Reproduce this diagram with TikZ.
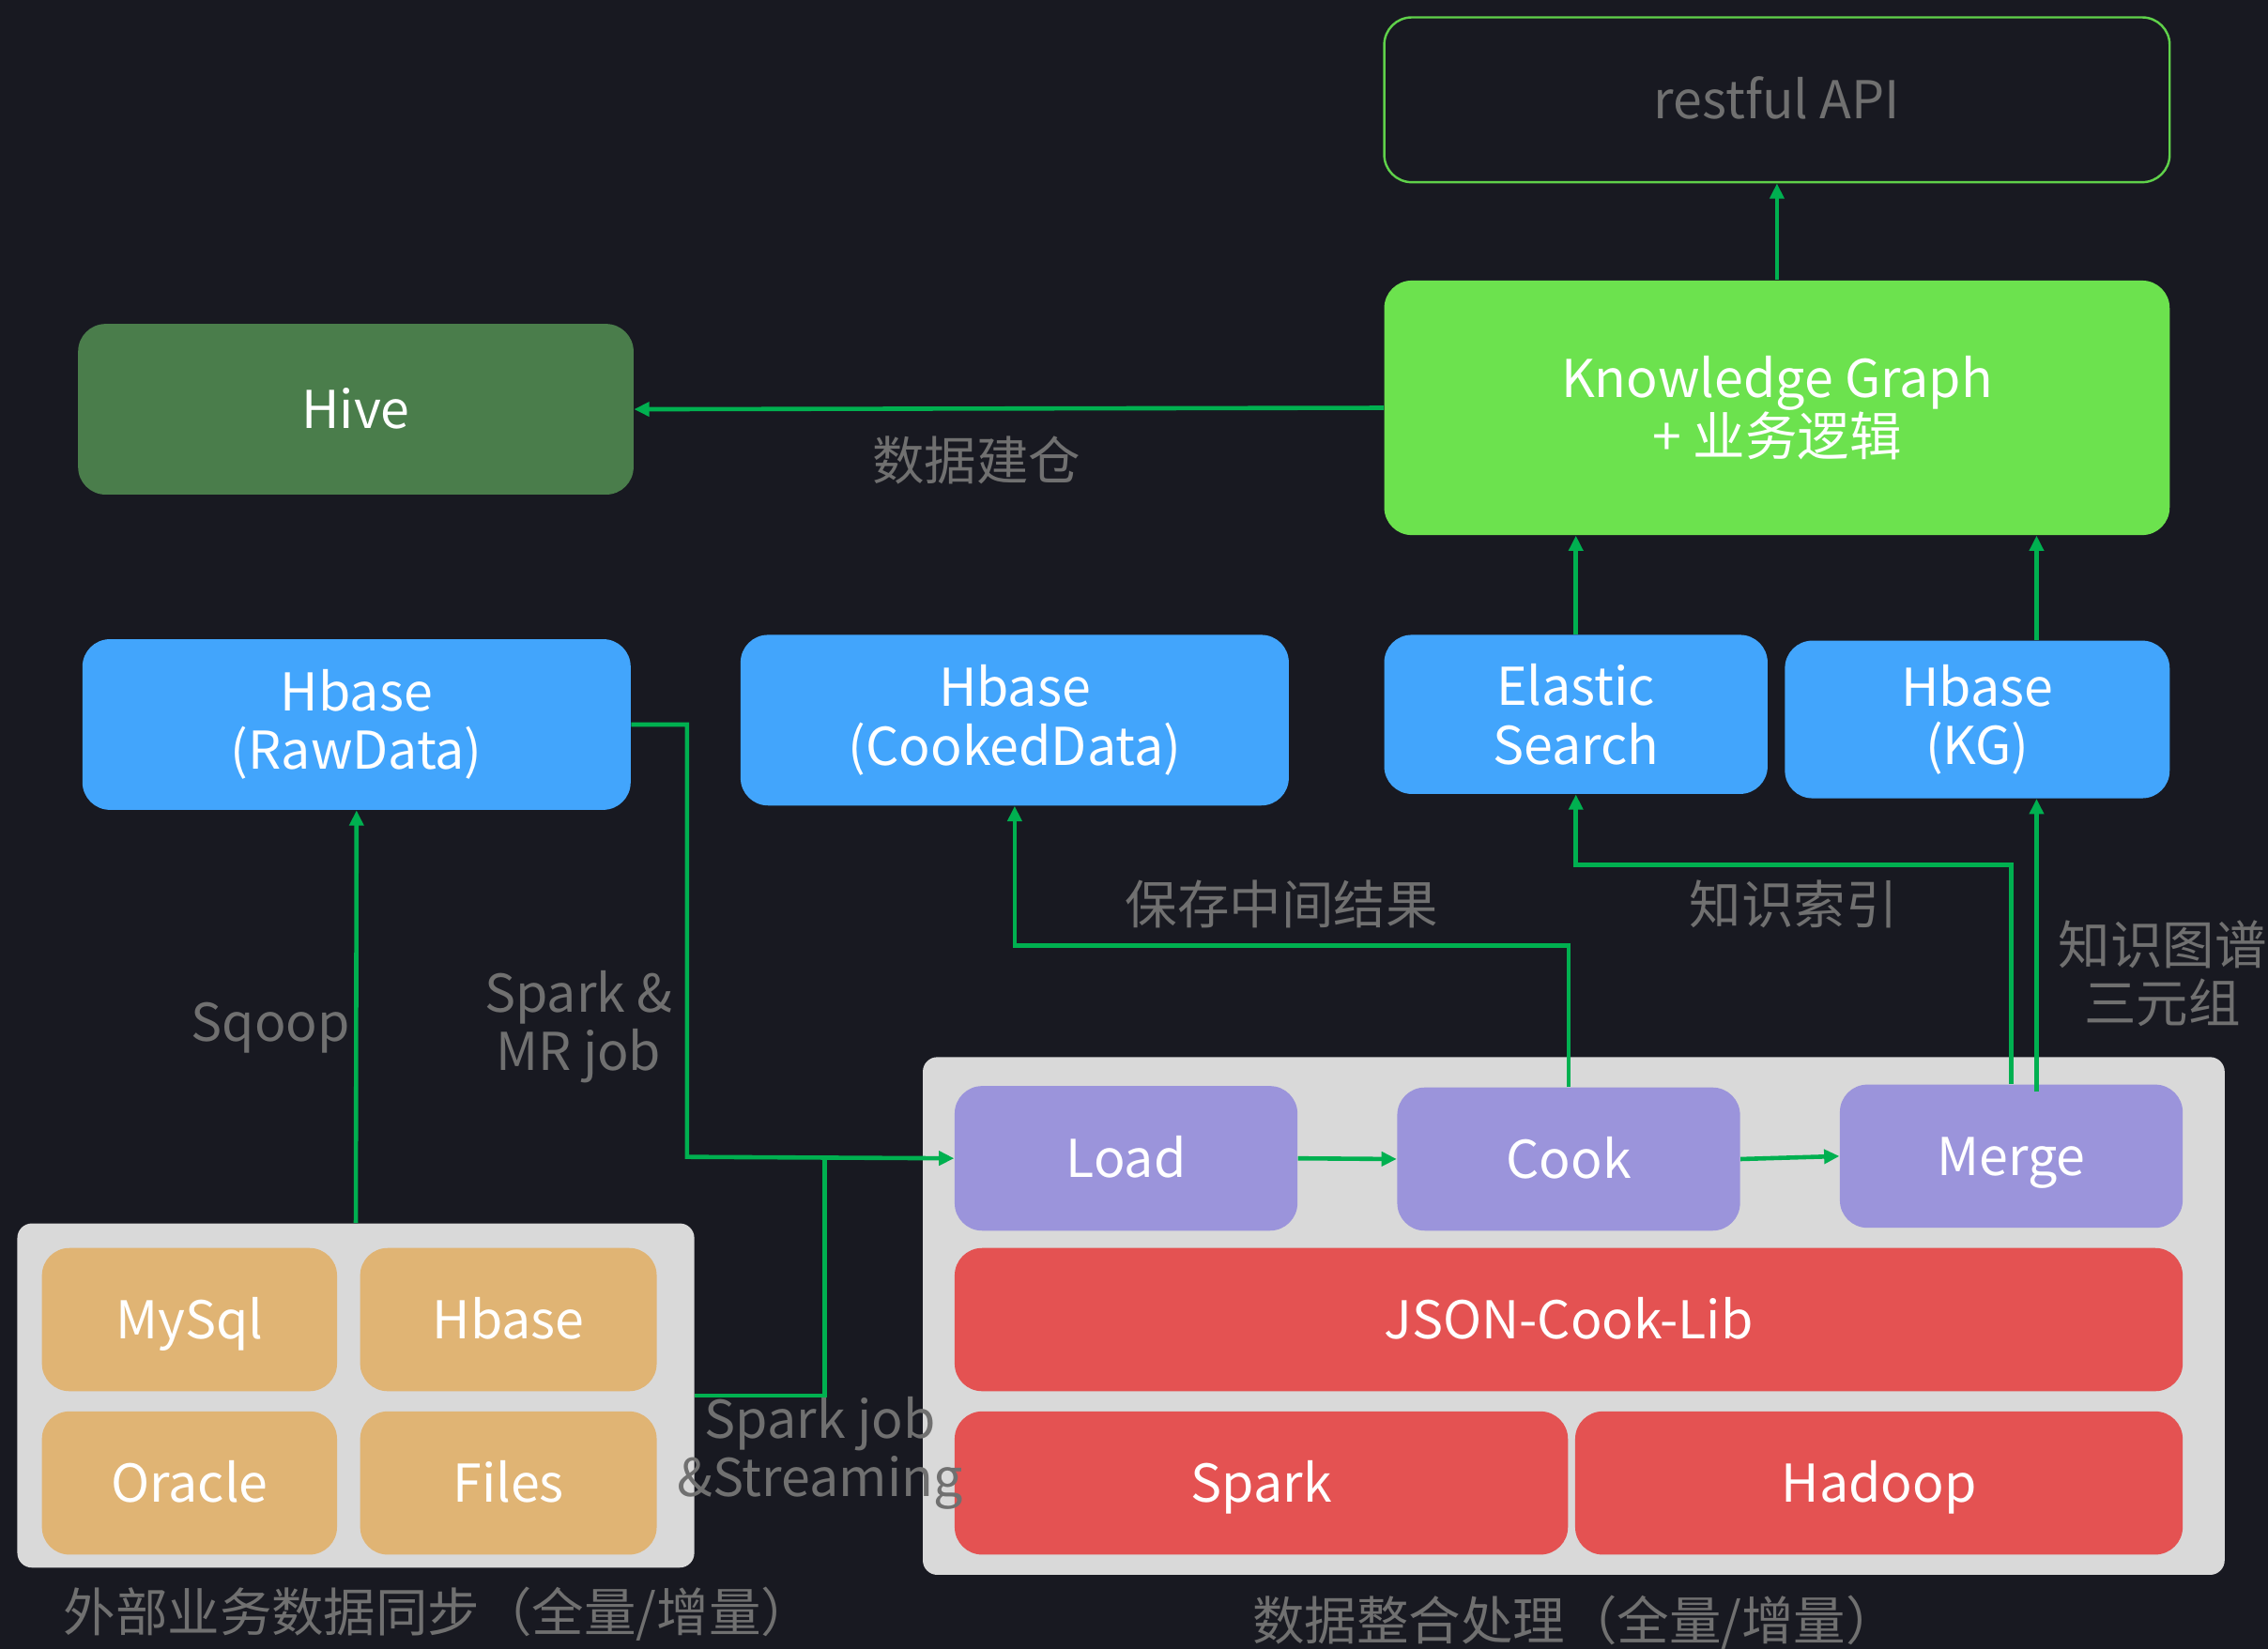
\documentclass[tikz,border=0pt]{standalone}
\usepackage{fontspec}
\setmainfont{Noto Sans CJK SC}
\usetikzlibrary{arrows.meta,calc}
\definecolor{bgc}{RGB}{24,25,33}
\definecolor{lnc}{RGB}{0,176,80}
\definecolor{kgc}{RGB}{108,226,78}
\definecolor{hivec}{RGB}{74,125,75}
\definecolor{bluec}{RGB}{66,165,252}
\definecolor{purc}{RGB}{155,148,219}
\definecolor{redc}{RGB}{228,82,82}
\definecolor{tanc}{RGB}{224,180,116}
\definecolor{contc}{RGB}{217,217,217}
\definecolor{txtg}{RGB}{112,112,112}
\definecolor{restc}{RGB}{95,209,74}
\newcommand\mkbox[7]{%
  \node[#1, minimum width={(#5-#3)*0.02cm}, minimum height={(#6-#4)*0.02cm}] (#2) at ({(#3+#5)/2},{(#4+#6)/2}) {#7};}
\begin{document}
\begin{tikzpicture}[x=0.02cm,y=-0.02cm,
  every node/.style={font=\fontsize{20.5}{23}\selectfont, align=center, inner sep=0pt},
  box/.style={rounded corners=0.38cm, text=white},
  one/.style={text height=15pt, text depth=0pt},
  cont/.style={fill=contc, rounded corners=0.2cm},
  lbl/.style={text=txtg},
  line/.style={draw=lnc, line width=1.7pt},
  conn/.style={line, -{Triangle[length=6pt,width=5.5pt]}}]
\fill[bgc] (0,0) rectangle (1568,1140);
\useasboundingbox (0,0) rectangle (1568,1140);
% top boxes
\mkbox{box, one, draw=restc, line width=0.9pt, text=txtg}{rest}{957}{12}{1500}{126}{restful API}
\mkbox{box, fill=kgc}{kg}{957}{194}{1500}{370}{Knowledge Graph\\+ 业务逻辑}
\mkbox{box, one, fill=hivec}{hive}{54}{224}{438}{342}{Hive}
% blue stores
\mkbox{box, fill=bluec}{raw}{57}{442}{436}{560}{Hbase\\(RawData)}
\mkbox{box, fill=bluec}{cooked}{512}{439}{891}{557}{Hbase\\(CookedData)}
\mkbox{box, fill=bluec}{es}{957}{439}{1222}{549}{Elastic\\Search}
\mkbox{box, fill=bluec}{hkg}{1234}{443}{1500}{552}{Hbase\\(KG)}
% external sources
\mkbox{cont}{ext}{12}{846}{480}{1084}{}
\mkbox{box, one, fill=tanc}{mysql}{29}{863}{233}{962}{MySql}
\mkbox{box, one, fill=tanc}{hb}{249}{863}{454}{962}{Hbase}
\mkbox{box, one, fill=tanc}{oracle}{29}{976}{233}{1075}{Oracle}
\mkbox{box, one, fill=tanc}{files}{249}{976}{454}{1075}{Files}
\node[lbl] (lext) at (303,1116) {外部业务数据同步（全量/增量）};
% processing
\mkbox{cont}{proc}{638}{731}{1538}{1089}{}
\mkbox{box, one, fill=purc}{load}{660}{751}{897}{851}{Load}
\mkbox{box, one, fill=purc}{cook}{966}{752}{1203}{851}{Cook}
\mkbox{box, one, fill=purc}{merge}{1272}{750}{1509}{849}{Merge}
\mkbox{box, one, fill=redc}{json}{660}{863}{1509}{962}{JSON-Cook-Lib}
\mkbox{box, one, fill=redc}{spark}{660}{976}{1084}{1075}{Spark}
\mkbox{box, one, fill=redc}{hadoop}{1089}{976}{1509}{1075}{Hadoop}
\node[lbl] (lproc) at (1089,1122) {数据整合处理（全量/增量）};
% labels
\node[lbl] (lwh) at (675,318) {数据建仓};
\node[lbl] (lsq) at (187,711) {Sqoop};
\node[lbl] (lmr) at (400,710) {Spark \&\\MR job};
\node[lbl] (lst) at (567,1005) {Spark job\\\&Streaming};
\node[lbl] (lsave) at (886,625) {保存中间结果};
\node[lbl] (lidx) at (1240,625) {知识索引};
\node[lbl] (ltri) at (1495,673) {知识图谱\\三元组};
% connectors
\coordinate (mk) at (1408,755);
\coordinate (rj) at (475,800);
\coordinate (sj) at (570,800);
\coordinate (ckj) at (900,654);
\coordinate (esj) at (1240,598);
\draw[conn] (kg.north) -- (rest.south);
\draw[conn] (kg.west) -- (hive.east);
\draw[conn] (es.north) -- (es.north |- kg.south);
\draw[conn] (mk |- hkg.north) -- (mk |- kg.south);
\draw[conn] (mk) -- (mk |- hkg.south);
\draw[conn] (merge.north) |- (esj) -| (es.south);
\draw[conn] (cook.north) |- (ckj) -| (cooked.south);
\draw[conn] (ext.north) -- (raw.south);
\draw[conn] (raw.east) -| (rj) -- (load.west);
\draw[line] (ext.east) -| (sj);
\draw[conn] (load.east) -- (cook.west);
\draw[conn] (cook.east) -- (merge.west);
\end{tikzpicture}
\end{document}
